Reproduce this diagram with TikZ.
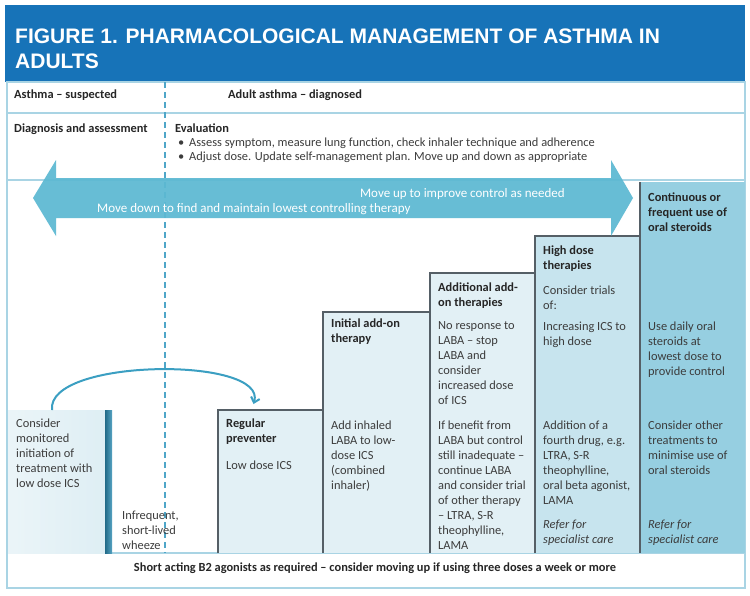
\documentclass[tikz,border=0pt]{standalone}
\usepackage{fontspec}
\setmainfont{Carlito}
\newfontfamily\titlefont{Liberation Sans}
\usetikzlibrary{arrows.meta}
\definecolor{hdrblue}{HTML}{1773B8}
\definecolor{frameblue}{HTML}{A9D4E4}
\definecolor{arrowblue}{HTML}{5CB9D2}
\definecolor{dashblue}{HTML}{4FA6C8}
\definecolor{stepA}{HTML}{E2F0F5}
\definecolor{stepB}{HTML}{C7E4EE}
\definecolor{stepC}{HTML}{96CFE1}
\definecolor{stepline}{HTML}{555F66}
\definecolor{txt}{HTML}{3C3C3C}
\definecolor{curveblue}{HTML}{3B9FC2}
\definecolor{barblue}{HTML}{2C8DB4}
\newcommand\mlines[1]{\begin{tabular}[t]{@{}l@{}}#1\end{tabular}}
\begin{document}
\begin{tikzpicture}[x=1pt,y=-1pt,
  lbl/.style={font=\fontsize{12.4}{15}\selectfont, text=txt, inner sep=0pt, anchor=base west},
  hd/.style={font=\fontsize{12.4}{15}\selectfont\bfseries, text=black!85, inner sep=0pt, anchor=base west},
  it/.style={font=\fontsize{12.4}{15}\selectfont\itshape, text=txt, inner sep=0pt, anchor=base west},
  arrowtext/.style={font=\fontsize{13}{15}\selectfont, text=white, inner sep=0pt},
  boxn/.style={anchor=north west, inner sep=0pt, outer sep=0pt, draw=none},
  frame/.style={draw=frameblue, line width=1.2pt},
  stepedge/.style={draw=stepline, line width=1.3pt},
  titletext/.style={anchor=base west, inner sep=0pt, text=white, font=\titlefont\fontsize{21}{26}\selectfont\bfseries}
]
\useasboundingbox (0,0) rectangle (750,595);
\fill[color=white] (0,0) rectangle (750,595);
% header
\node[boxn, fill=hdrblue, minimum width=740pt, minimum height=77pt] (header) at (5,5) {};
\node[titletext] (title1) at (15,43) {FIGURE 1. PHARMACOLOGICAL MANAGEMENT OF ASTHMA IN};
\node[titletext] (title2) at (15,68) {ADULTS};
% frame
\draw[frame] (7,82) rectangle (745,588);
\draw[frame] (7,113) -- (745,113);
\draw[frame] (7,180) -- (745,180);
\draw[frame] (7,553) -- (745,553);
% step boxes
\node[boxn, fill=stepC, minimum width=105pt, minimum height=371pt] (cont) at (640,182) {};
\node[boxn, fill=stepB, minimum width=105pt, minimum height=317pt] (high) at (535,236) {};
\node[boxn, fill=stepA, minimum width=105pt, minimum height=280pt] (addl) at (430,273) {};
\node[boxn, fill=stepA, minimum width=107pt, minimum height=241pt] (init) at (323,312) {};
\node[boxn, fill=stepA, minimum width=105pt, minimum height=143pt] (reg) at (218,410) {};
\node[boxn, left color=stepA!70!white, right color=stepA!85!stepB, minimum width=98pt, minimum height=143pt] (lbox) at (8,410) {};
\node[boxn, left color=barblue!75!black, right color=barblue!80, minimum width=7pt, minimum height=143pt] (bar) at (105,410) {};
\draw[stepedge] (reg.south west) |- (reg.north east);
\draw[stepedge] (init.south west) |- (init.north east);
\draw[stepedge] (addl.south west) |- (addl.north east);
\draw[stepedge] (high.south west) |- (high.north east);
\draw[stepedge] (cont.south west) -- (cont.north west);
% dashed divider
\coordinate (dtop) at (165,82);
\coordinate (dbot) at (165,553);
\draw[dashblue, line width=1.6pt, dash pattern=on 6pt off 4pt] (dtop) -- (dbot);
% big double arrow
\fill[arrowblue, opacity=0.93] (33,198) -- (56,160) -- (56,178) -- (611,178) -- (611,160) -- (633,198) -- (611,236) -- (611,218) -- (56,218) -- (56,236) -- cycle;
\node[arrowtext, anchor=base east] (moveup) at (565,197) {Move up to improve control as needed};
\node[arrowtext, anchor=base west] (movedown) at (97,212) {Move down to find and maintain lowest controlling therapy};
% curved arrow
\draw[curveblue, line width=2pt, -{Straight Barb[length=5pt,width=9pt]}] ([xshift=-5pt]lbox.north) .. controls (46,358) and (268,356) .. ([xshift=-17pt,yshift=6pt]reg.north);
% header rows text
\node[hd] (susp) at (14,98) {Asthma -- suspected};
\node[hd] (diag) at (228,98) {Adult asthma -- diagnosed};
\node[hd] (dass) at (14,132) {Diagnosis and assessment};
\node[hd] (eval) at (175,132) {Evaluation};
\node[lbl] (b1) at (178,146) {•};
\node[lbl] (b1t) at (189,146) {Assess symptom, measure lung function, check inhaler technique and adherence};
\node[lbl] (b2) at (178,160) {•};
\node[lbl] (b2t) at (189,160) {Adjust dose. Update self-management plan. Move up and down as appropriate};
% left box text
\node[lbl] (lt) at (16,427) {\mlines{Consider\\monitored\\initiation of\\treatment with\\low dose ICS}};
\node[lbl] (wheeze) at (122,519) {\mlines{Infrequent,\\short-lived\\wheeze}};
% regular preventer
\node[hd] (regh) at (226,427) {\mlines{Regular\\preventer}};
\node[lbl] (regt) at (226,469) {Low dose ICS};
% initial add-on
\node[hd] (inith) at (331,327) {\mlines{Initial add-on\\therapy}};
\node[lbl] (initt) at (331,429) {\mlines{Add inhaled\\LABA to low-\\dose ICS\\(combined\\inhaler)}};
% additional
\node[hd] (addlh) at (438,291) {\mlines{Additional add-\\on therapies}};
\node[lbl] (addlt1) at (438,329) {\mlines{No response to\\LABA -- stop\\LABA and\\consider\\increased dose\\of ICS}};
\node[lbl] (addlt2) at (438,429) {\mlines{If benefit from\\LABA but control\\still inadequate --\\continue LABA\\and consider trial\\of other therapy\\-- LTRA, S-R\\theophylline,\\LAMA}};
% high dose
\node[hd] (highh) at (543,254) {\mlines{High dose\\therapies}};
\node[lbl] (hight1) at (543,294) {\mlines{Consider trials\\of:}};
\node[lbl] (hight2) at (543,330) {\mlines{Increasing ICS to\\high dose}};
\node[lbl] (hight3) at (543,429) {\mlines{Addition of a\\fourth drug, e.g.\\LTRA, S-R\\theophylline,\\oral beta agonist,\\LAMA}};
\node[it] (highr) at (543,528) {\mlines{Refer for\\specialist care}};
% continuous
\node[hd] (conth) at (648,201) {\mlines{Continuous or\\frequent use of\\oral steroids}};
\node[lbl] (contt1) at (648,330) {\mlines{Use daily oral\\steroids at\\lowest dose to\\provide control}};
\node[lbl] (contt2) at (648,429) {\mlines{Consider other\\treatments to\\minimise use of\\oral steroids}};
\node[it] (contr) at (648,528) {\mlines{Refer for\\specialist care}};
% bottom
\node[hd, anchor=base] (saba) at (375,571) {Short acting B2 agonists as required -- consider moving up if using three doses a week or more};
\end{tikzpicture}
\end{document}
